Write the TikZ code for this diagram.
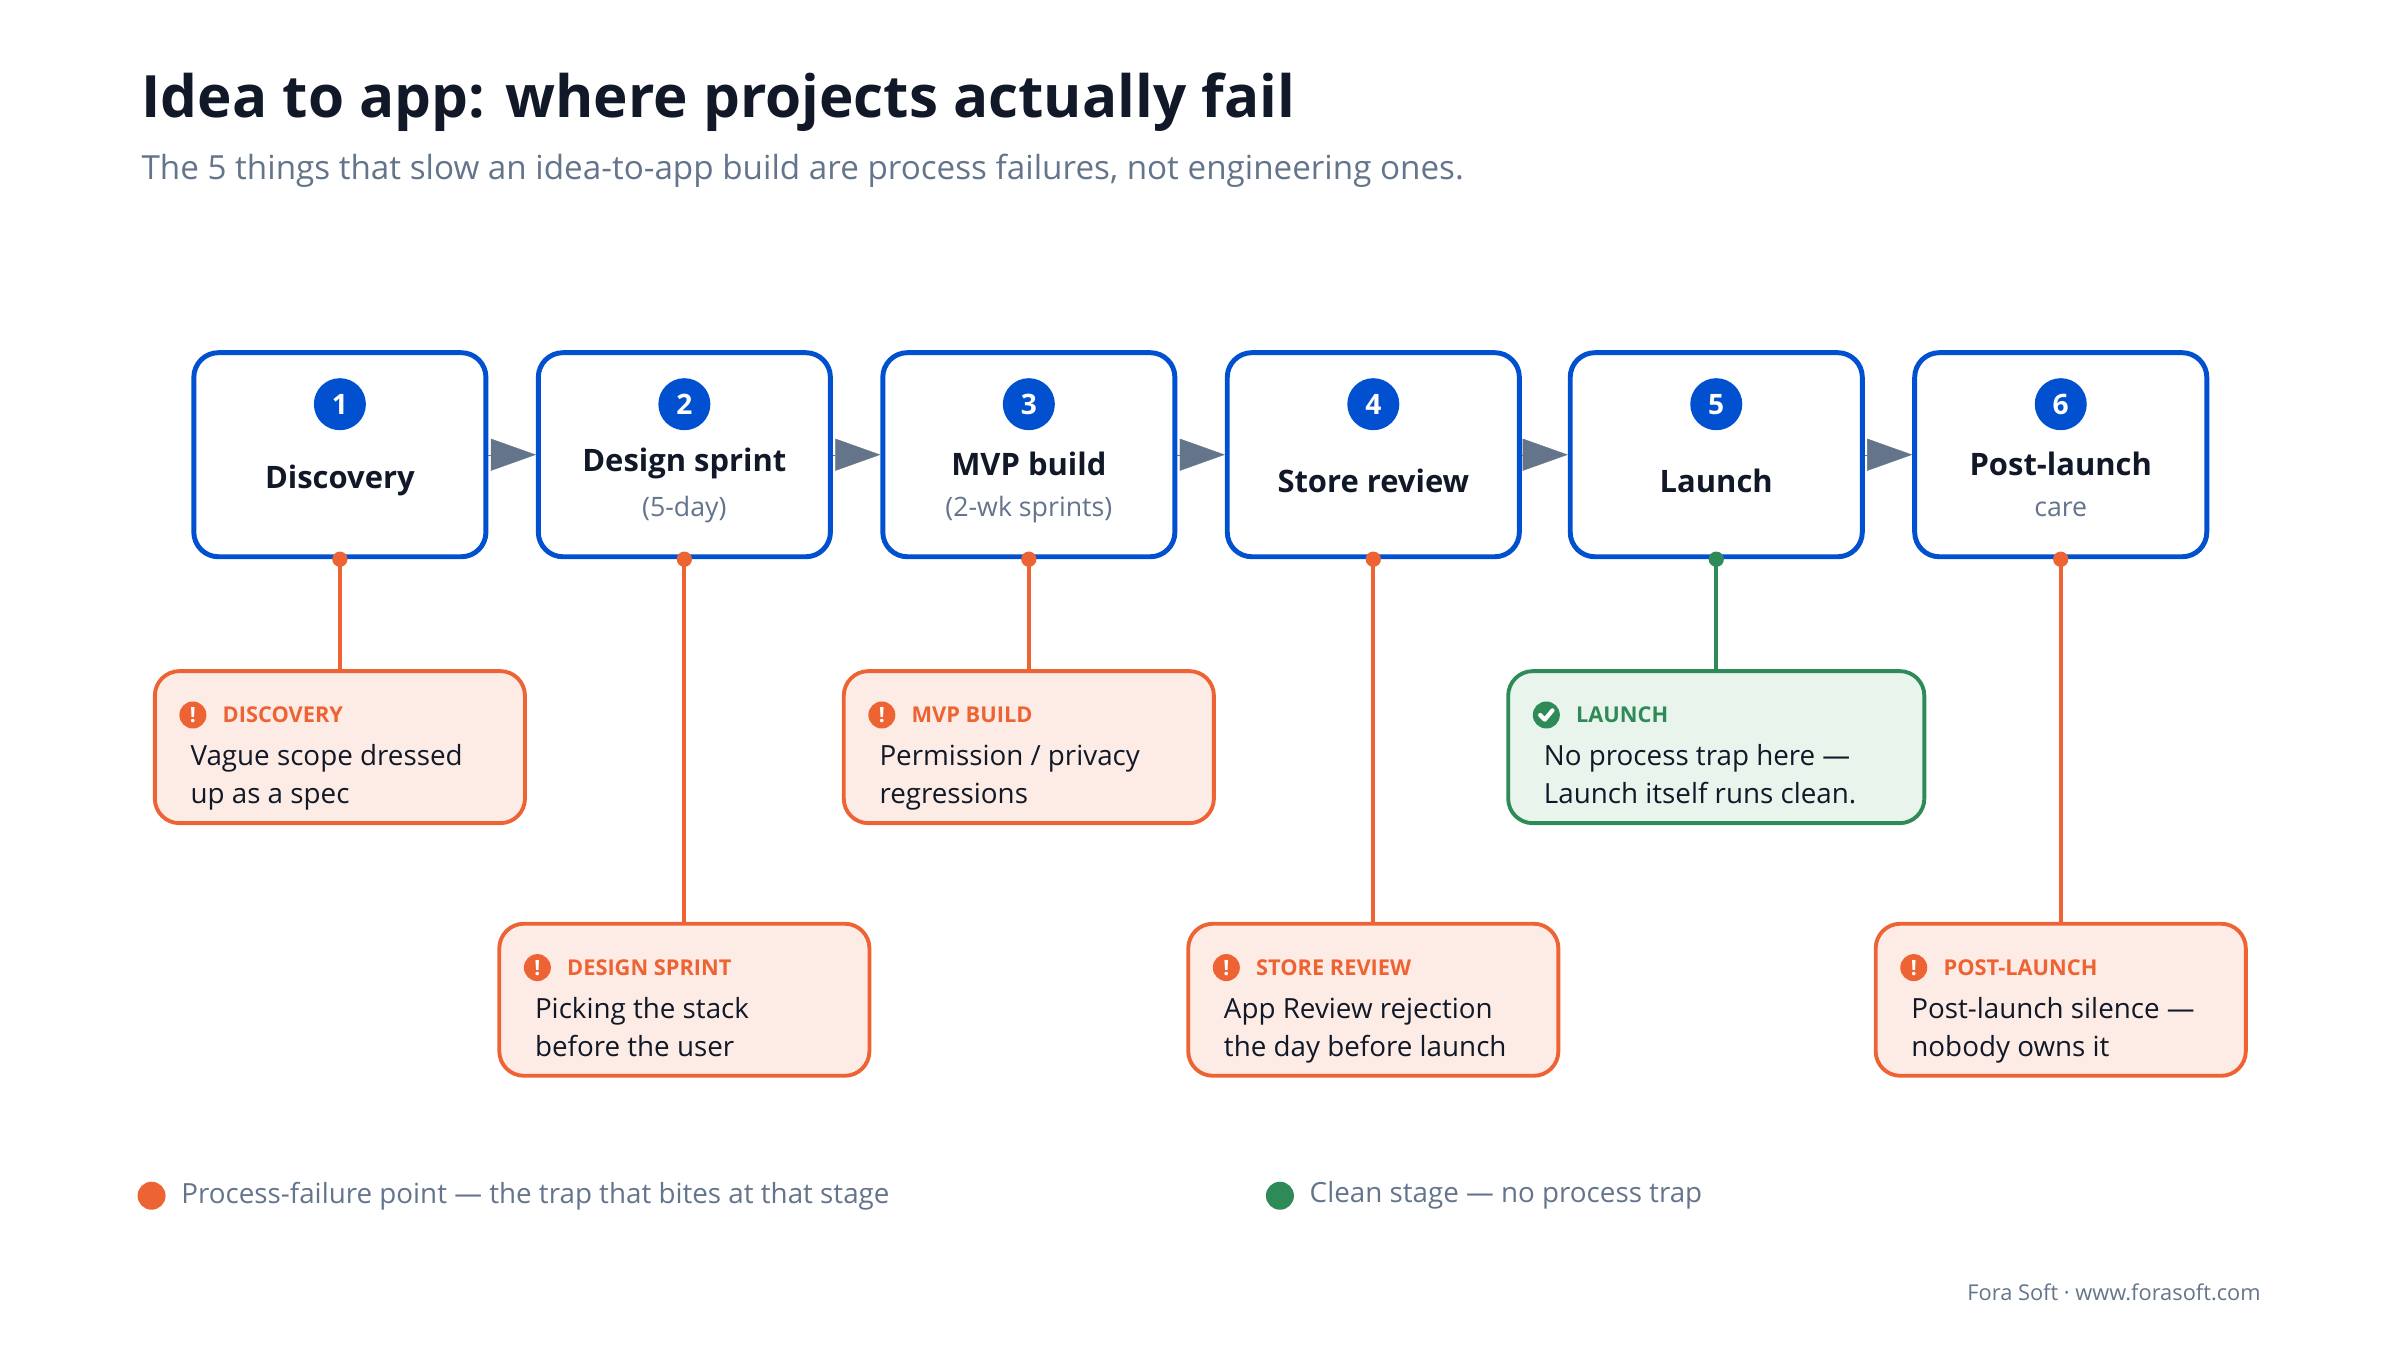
\documentclass[tikz,border=0pt]{standalone}
\usepackage{fontspec}
\setmainfont{Open Sans}
\usetikzlibrary{arrows.meta}
\definecolor{ink}{HTML}{111827}
\definecolor{slate}{HTML}{64748B}
\definecolor{stageblue}{HTML}{0050D0}
\definecolor{trapred}{HTML}{EE6333}
\definecolor{trapbg}{HTML}{FCECE5}
\definecolor{okgreen}{HTML}{2E8B57}
\definecolor{okbg}{HTML}{E9F4EC}
\definecolor{arrowgray}{HTML}{64748B}
\newcommand{\fs}[1]{\fontsize{#1}{#1}\selectfont}
\tikzstyle{stage} = [draw=stageblue, line width=1.4pt, rounded corners=7pt, minimum width=2.92cm, minimum height=2.04cm, fill=white]
\tikzstyle{badge} = [circle, fill=stageblue, text=white, minimum size=0.52cm, inner sep=0pt, font=\fs{8pt}\bfseries]
\tikzstyle{trap} = [draw=trapred, line width=1.1pt, fill=trapbg, rounded corners=7pt, minimum width=3.7cm, minimum height=1.52cm]
\tikzstyle{okbox} = [draw=okgreen, line width=1.1pt, fill=okbg, rounded corners=7pt, minimum width=4.16cm, minimum height=1.52cm]
\tikzstyle{flow} = [-{Triangle[length=0.45cm,width=0.32cm]}, arrowgray, line width=0.1pt]
\tikzstyle{head} = [anchor=west, font=\fs{6.2pt}\bfseries, inner sep=0pt]
\tikzstyle{body} = [anchor=base west, align=left, font=\fontsize{7.9pt}{10.9pt}\selectfont, text=ink, inner sep=0pt]

\begin{document}
\begin{tikzpicture}[x=0.01531cm, y=-0.01531cm]
    \useasboundingbox (0,0) rectangle (1567.6,877.9);
    \node[anchor=base west, inner sep=0pt, text=ink, font=\fs{16.6pt}\bfseries] (title) at (92,77) {Idea to app: where projects actually fail};
    \node[anchor=base west, inner sep=0pt, text=slate, font=\fs{9.45pt}] (sub) at (92,117) {The 5 things that slow an idea-to-app build are process failures, not engineering ones.};

    % stages
    \node[stage] at (222,297) (s1) {};
    \node[stage] at (447,297) (s2) {};
    \node[stage] at (672,297) (s3) {};
    \node[stage] at (897,297) (s4) {};
    \node[stage] at (1121,297) (s5) {};
    \node[stage] at (1346,297) (s6) {};

    \draw[flow] (s1.east) -- (s2.west);
    \draw[flow] (s2.east) -- (s3.west);
    \draw[flow] (s3.east) -- (s4.west);
    \draw[flow] (s4.east) -- (s5.west);
    \draw[flow] (s5.east) -- (s6.west);

    \node[badge] at (222,264) (b1) {1};
    \node[badge] at (447,264) (b2) {2};
    \node[badge] at (672,264) (b3) {3};
    \node[badge] at (897,264) (b4) {4};
    \node[badge] at (1121,264) (b5) {5};
    \node[badge] at (1346,264) (b6) {6};

    \node[text=ink, font=\fs{8.8pt}\bfseries] at (222,314) (n1) {Discovery};
    \node[text=ink, font=\fs{8.8pt}\bfseries] at (447,303) (n2) {Design sprint};
    \node[text=slate, font=\fs{7.6pt}] at (447,333) (m2) {(5-day)};
    \node[text=ink, font=\fs{8.8pt}\bfseries] at (672,303) (n3) {MVP build};
    \node[text=slate, font=\fs{7.6pt}] at (672,333) (m3) {(2-wk sprints)};
    \node[text=ink, font=\fs{8.8pt}\bfseries] at (897,314) (n4) {Store review};
    \node[text=ink, font=\fs{8.8pt}\bfseries] at (1121,314) (n5) {Launch};
    \node[text=ink, font=\fs{8.8pt}\bfseries] at (1346,303) (n6) {Post-launch};
    \node[text=slate, font=\fs{7.6pt}] at (1346,333) (m6) {care};

    % traps
    \node[trap] at (222,488) (t1) {};
    \node[trap] at (447,653) (t2) {};
    \node[trap] at (672,488) (t3) {};
    \node[trap] at (897,653) (t4) {};
    \node[okbox] at (1121,488) (t5) {};
    \node[trap] at (1346,653) (t6) {};

    \draw[trapred, line width=1.1pt] (s1.south) -- (t1.north);
    \draw[trapred, line width=1.1pt] (s2.south) -- (t2.north);
    \draw[trapred, line width=1.1pt] (s3.south) -- (t3.north);
    \draw[trapred, line width=1.1pt] (s4.south) -- (t4.north);
    \draw[okgreen, line width=1.1pt] (s5.south) -- (t5.north);
    \draw[trapred, line width=1.1pt] (s6.south) -- (t6.north);
    \fill[trapred] (s1.south) circle (5); \fill[trapred] (s2.south) circle (5);
    \fill[trapred] (s3.south) circle (5); \fill[trapred] (s4.south) circle (5);
    \fill[okgreen] (s5.south) circle (5); \fill[trapred] (s6.south) circle (5);

    % trap labels
    \node[circle, fill=trapred, text=white, minimum size=0.27cm, inner sep=0pt, font=\fs{6pt}\bfseries] at (126,467) (i1) {!};
    \node[head, text=trapred] at (145,467) (h1) {DISCOVERY};
    \node[body] at (124,525) (x1) {Vague scope dressed\\up as a spec};
    \node[circle, fill=trapred, text=white, minimum size=0.27cm, inner sep=0pt, font=\fs{6pt}\bfseries] at (351,632) (i2) {!};
    \node[head, text=trapred] at (370,632) (h2) {DESIGN SPRINT};
    \node[body] at (349,690) (x2) {Picking the stack\\before the user};
    \node[circle, fill=trapred, text=white, minimum size=0.27cm, inner sep=0pt, font=\fs{6pt}\bfseries] at (576,467) (i3) {!};
    \node[head, text=trapred] at (595,467) (h3) {MVP BUILD};
    \node[body] at (574,525) (x3) {Permission / privacy\\regressions};
    \node[circle, fill=trapred, text=white, minimum size=0.27cm, inner sep=0pt, font=\fs{6pt}\bfseries] at (801,632) (i4) {!};
    \node[head, text=trapred] at (820,632) (h4) {STORE REVIEW};
    \node[body] at (799,690) (x4) {App Review rejection\\the day before launch};
    \node[circle, fill=okgreen, minimum size=0.27cm, inner sep=0pt] at (1010,467) (i5) {};
    \draw[white, line width=1.2pt, line cap=round, line join=round] ([shift={(-4,0)}]i5.center) -- ([shift={(-1,3)}]i5.center) -- ([shift={(4,-3)}]i5.center);
    \node[head, text=okgreen] at (1029,467) (h5) {LAUNCH};
    \node[body] at (1008,525) (x5) {No process trap here ---\\Launch itself runs clean.};
    \node[circle, fill=trapred, text=white, minimum size=0.27cm, inner sep=0pt, font=\fs{6pt}\bfseries] at (1250,632) (i6) {!};
    \node[head, text=trapred] at (1269,632) (h6) {POST-LAUNCH};
    \node[body] at (1248,690) (x6) {Post-launch silence ---\\nobody owns it};

    % legend
    \node[circle, fill=trapred, minimum size=0.28cm, inner sep=0pt] at (99,781) (l1) {};
    \node[anchor=west, text=slate, font=\fs{7.9pt}, inner sep=0pt] at (118,781) (lt1) {Process-failure point --- the trap that bites at that stage};
    \node[circle, fill=okgreen, minimum size=0.28cm, inner sep=0pt] at (836,781) (l2) {};
    \node[anchor=west, text=slate, font=\fs{7.9pt}, inner sep=0pt] at (855,781) (lt2) {Clean stage --- no process trap};
    \node[anchor=east, text=slate, font=\fs{6.2pt}, inner sep=0pt] at (1477,844) (foot) {Fora Soft · www.forasoft.com};
\end{tikzpicture}
\end{document}
